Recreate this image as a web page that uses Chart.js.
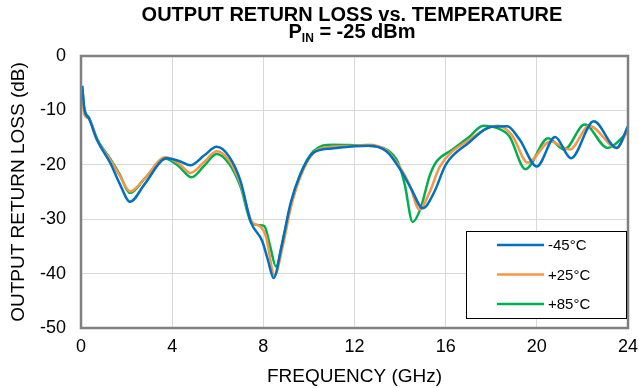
<!DOCTYPE html>
<html>
<head>
<meta charset="utf-8">
<script src="https://cdn.jsdelivr.net/npm/chart.js@4/dist/chart.umd.min.js"></script>
<style>
  html, body { margin: 0; padding: 0; background: #fff; }
  #wrap { width: 639px; height: 388px; position: relative; }
</style>
</head>
<body>
<div id="wrap"><canvas id="rlChart" width="639" height="388"></canvas></div>
<script>
// Values
const xTicks = [0, 4, 8, 12, 16, 20, 24];
const yTicks = [0, -10, -20, -30, -40, -50];
const seriesLabels = ['-45°C', '+25°C', '+85°C'];
const seriesColors = ['#0070C0', '#F79646', '#00B050'];

const freqCold = [0.05, 0.15, 0.35, 0.7, 1.3, 1.7, 2.15, 2.8, 3.75, 4.3, 4.8, 5.4, 5.95, 6.5, 7.0, 7.45, 7.95, 8.2, 8.45, 8.8, 9.2, 9.6, 10.2, 11.0, 12.0, 12.6, 13.4, 14.0, 14.5, 15.0, 15.5, 16.0, 17.0, 18.0, 18.7, 19.25, 20.0, 20.8, 21.5, 22.5, 23.5, 24];
const rlCold = [-5.5, -9.8, -11.5, -15.4, -19.8, -23.5, -26.8, -23.5, -18.8, -19.3, -20.1, -18.3, -16.7, -18.5, -23, -30.5, -34, -37.5, -40.8, -35, -27, -22, -17.8, -17.0, -16.6, -16.5, -17.5, -20.8, -24.5, -28.0, -25, -20, -16, -13, -12.9, -15.4, -20.3, -14.9, -18.8, -12.0, -16.9, -12.9];

const freqRoom = [0.05, 0.15, 0.35, 0.7, 1.3, 1.7, 2.15, 2.8, 3.7, 4.3, 4.8, 5.4, 5.95, 6.5, 7.0, 7.5, 7.85, 8.1, 8.5, 8.85, 9.2, 9.6, 10.2, 11.0, 12.0, 12.6, 13.4, 14.0, 14.4, 14.85, 15.3, 15.75, 17.0, 18.3, 18.9, 19.6, 20.6, 21.45, 22.3, 23.5, 24];
const rlRoom = [-6, -10.8, -11.5, -15.4, -19.2, -22, -24.9, -22.5, -18.6, -19.8, -21.5, -19.5, -17.5, -19.2, -23.5, -30.5, -31.3, -33, -40.3, -35, -28, -22.5, -17.8, -16.7, -16.5, -16.3, -17.3, -20.5, -23.5, -28.2, -25, -20.3, -15.5, -12.8, -14.5, -19.6, -15.7, -17.2, -12.8, -16.9, -13.5];

const freqHot = [0.05, 0.15, 0.35, 0.7, 1.3, 1.7, 2.15, 2.8, 3.7, 4.3, 4.85, 5.4, 5.95, 6.5, 7.0, 7.5, 7.85, 8.05, 8.3, 8.55, 8.9, 9.2, 9.6, 10.2, 11.05, 12.0, 12.6, 13.4, 13.9, 14.2, 14.55, 14.9, 15.3, 15.6, 16.3, 17.0, 17.65, 18.3, 18.8, 19.5, 20.5, 21.2, 22.1, 23.1, 24];
const rlHot = [-5.5, -9.8, -11.3, -15.2, -19.0, -21.8, -25.2, -22.5, -18.9, -20.3, -22.3, -20.2, -18.0, -19.8, -24, -30.8, -31.1, -31.3, -35, -38.7, -33, -27.5, -22, -17.5, -16.3, -16.4, -16.5, -17.2, -19.5, -23.5, -30.5, -28, -22, -19.4, -17.2, -15, -12.8, -13.3, -14.8, -20.8, -15.1, -17.2, -12.6, -16.9, -14];

const FONT = 'Liberation Sans, Arial, sans-serif';

function toPoints(xs, ys) {
    return xs.map((x, i) => ({ x: x, y: ys[i] }));
}

// Two-line title with subscript, frame round the plot area, boxed legend
const titlePlugin = {
    id: 'titleFrame',
    afterDraw(chart) {
        const ctx = chart.ctx;
        const area = chart.chartArea;
        const cx = 352;
        ctx.save();
        ctx.fillStyle = '#000';
        ctx.textBaseline = 'alphabetic';
        ctx.font = 'bold 20px ' + FONT;
        ctx.textAlign = 'center';
        ctx.fillText('OUTPUT RETURN LOSS vs. TEMPERATURE', cx, 21);

        const p = 'P', sub = 'IN', rest = ' = -25 dBm';
        const wp = ctx.measureText(p).width;
        const wr = ctx.measureText(rest).width;
        ctx.font = 'bold 12px ' + FONT;
        const ws = ctx.measureText(sub).width;
        let x = cx - (wp + ws + wr) / 2;
        ctx.textAlign = 'left';
        ctx.font = 'bold 20px ' + FONT;
        ctx.fillText(p, x, 38);
        x += wp;
        ctx.font = 'bold 12px ' + FONT;
        ctx.fillText(sub, x, 42);
        x += ws;
        ctx.font = 'bold 20px ' + FONT;
        ctx.fillText(rest, x, 38);

        // gray frame
        ctx.strokeStyle = '#808080';
        ctx.lineWidth = 2.5;
        ctx.strokeRect(area.left, area.top, area.right - area.left, area.bottom - area.top);

        // legend box
        const lx = 466, ly = 231, lw = 160, lh = 87;
        ctx.fillStyle = '#fff';
        ctx.fillRect(lx, ly, lw, lh);
        ctx.strokeStyle = '#000';
        ctx.lineWidth = 1;
        ctx.strokeRect(lx + 0.5, ly + 0.5, lw, lh);
        ctx.font = '15px ' + FONT;
        ctx.textBaseline = 'middle';
        chart.data.datasets.forEach((ds, i) => {
            const y = 245 + i * 29.5;
            ctx.strokeStyle = ds.borderColor;
            ctx.lineWidth = 2.5;
            ctx.beginPath();
            ctx.moveTo(497, y);
            ctx.lineTo(544, y);
            ctx.stroke();
            ctx.fillStyle = '#000';
            ctx.fillText(ds.label, 548, y + 1);
        });
        ctx.restore();
    }
};

const datasets = [
    { label: seriesLabels[0], data: toPoints(freqCold, rlCold), borderColor: seriesColors[0] },
    { label: seriesLabels[1], data: toPoints(freqRoom, rlRoom), borderColor: seriesColors[1] },
    { label: seriesLabels[2], data: toPoints(freqHot, rlHot), borderColor: seriesColors[2] }
].map(d => Object.assign(d, {
    borderWidth: 2.5,
    pointRadius: 0,
    fill: false,
    cubicInterpolationMode: 'monotone'
}));

new Chart(document.getElementById('rlChart').getContext('2d'), {
    type: 'line',
    data: { datasets: datasets },
    options: {
        responsive: false,
        animation: false,
        devicePixelRatio: 1,
        layout: { padding: { top: 56, right: 11, left: 0, bottom: 0 } },
        plugins: { legend: { display: false }, tooltip: { enabled: false } },
        scales: {
            x: {
                type: 'linear',
                min: 0,
                max: 24,
                afterBuildTicks: s => { s.ticks = xTicks.map(v => ({ value: v })); },
                afterFit: s => { s.height = 60; s.paddingRight = 0; s.paddingLeft = 0; },
                grid: { color: '#d9d9d9', lineWidth: 1, drawTicks: false },
                border: { display: false },
                ticks: { color: '#000', font: { family: FONT, size: 18 }, padding: 8, maxRotation: 0 },
                title: { display: true, text: 'FREQUENCY (GHz)', color: '#000', font: { family: FONT, size: 19 }, padding: { top: 0, bottom: 0 } }
            },
            y: {
                min: -50,
                max: 0,
                afterBuildTicks: s => { s.ticks = yTicks.map(v => ({ value: v })); },
                afterFit: s => { s.width = 81; },
                grid: { color: '#d9d9d9', lineWidth: 1, drawTicks: false },
                border: { display: false },
                ticks: { color: '#000', font: { family: FONT, size: 18 }, padding: 15 },
                title: { display: true, text: 'OUTPUT RETURN LOSS (dB)', color: '#000', font: { family: FONT, size: 19 }, padding: { top: 7, bottom: 0 } }
            }
        }
    },
    plugins: [titlePlugin]
});
</script>
</body>
</html>
